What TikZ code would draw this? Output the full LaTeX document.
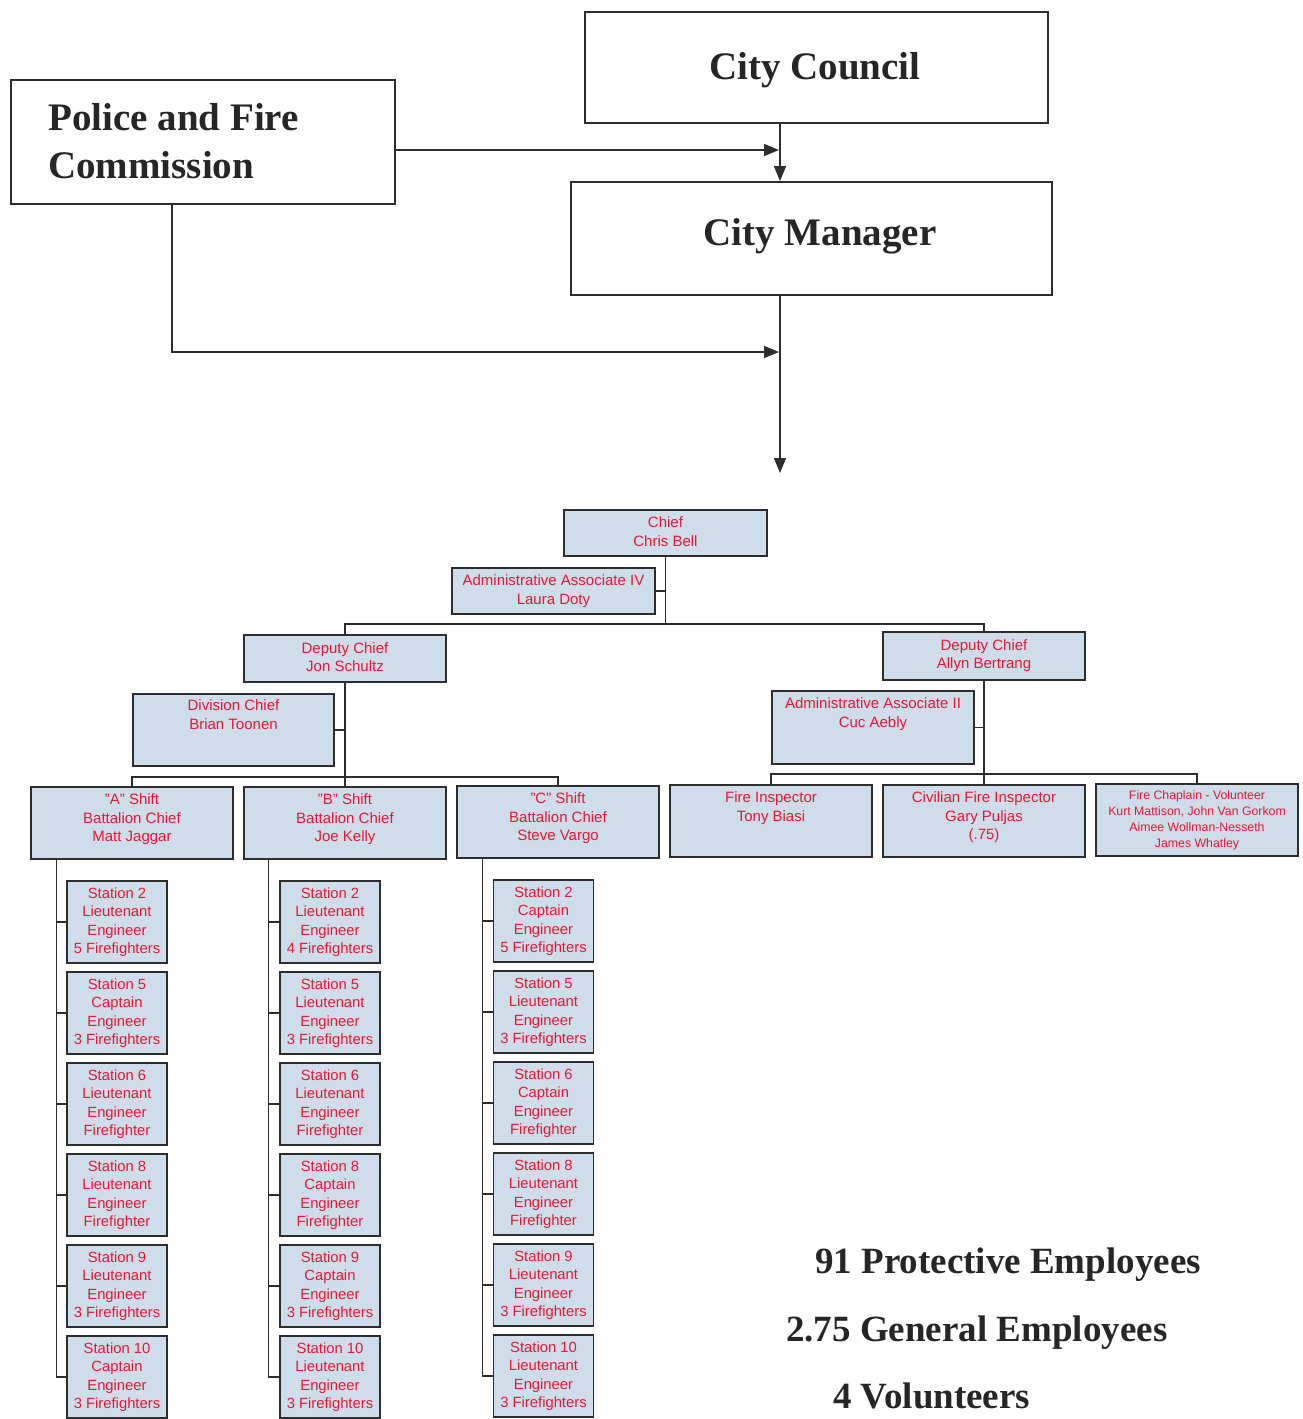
\documentclass[tikz,border=0pt]{standalone}
\usepackage{fontspec}
\setmainfont{Liberation Serif}
\setsansfont{Liberation Sans}
\usetikzlibrary{arrows.meta,calc}
\definecolor{boxfill}{RGB}{207,221,234}
\definecolor{firered}{RGB}{232,22,52}
\definecolor{edge}{RGB}{45,45,45}
\begin{document}
\begin{tikzpicture}[x=1pt,y=-1pt,
  bigbox/.style={draw=edge, line width=1.8pt, fill=white, inner sep=0pt},
  bigtxt/.style={font=\rmfamily\bfseries\fontsize{39}{48}\selectfont, text=black!85, inner sep=0pt},
  sumtxt/.style={font=\rmfamily\bfseries\fontsize{37}{44}\selectfont, text=black!85, inner sep=0pt, anchor=base west},
  arrowline/.style={draw=edge, line width=1.5pt, -{Triangle[length=15pt,width=12pt]}},
  box/.style={draw=edge, line width=1.5pt, fill=boxfill, inner sep=0pt},
  txt/.style={font=\sffamily\fontsize{15}{18.5}\selectfont, text=firered, align=center, inner sep=0pt, anchor=north},
  smalltxt/.style={font=\sffamily\fontsize{12.3}{16}\selectfont, text=firered, align=center, inner sep=0pt, anchor=north},
  stbox/.style={box, minimum width=100pt, minimum height=82pt, font=\sffamily\fontsize{14.8}{18.5}\selectfont, text=firered, align=center},
  conn/.style={draw=edge, line width=1.2pt}
]
\useasboundingbox[fill=white] (0,0) rectangle (1302,1419);

% ---------- top part ----------
\node[bigbox, minimum width=463pt, minimum height=111pt] (cc) at (816.5,67.5) {};
\node[bigtxt, anchor=base] (cct) at (815,79) {City Council};
\node[bigbox, minimum width=384pt, minimum height=124pt] (pfc) at (203,142) {};
\node[bigtxt, anchor=west, align=left] (pfct) at (48,141) {Police and Fire\\Commission};
\node[bigbox, minimum width=481pt, minimum height=113pt] (cm) at (811.5,238.5) {};
\node[bigtxt, anchor=base] (cmt) at (820,245) {City Manager};

\coordinate (spine) at (780,0);
\coordinate (j1) at (779,150);
\coordinate (j2) at (779,352);
\coordinate (j3) at (780,473);
\draw[arrowline] (spine |- cc.south) -- (spine |- cm.north);
\draw[arrowline] (pfc.east |- j1) -- (j1);
\draw[arrowline] ([xshift=-31pt]pfc.south) -- ([xshift=-31pt]pfc.south |- j2) -- (j2);
\draw[arrowline] (spine |- cm.south) -- (j3);

% ---------- chart ----------
\coordinate (bus1) at (0,624);
\coordinate (bus2) at (0,777);
\coordinate (bus3) at (0,774);

\node[box, minimum width=203pt, minimum height=46pt] (chief) at (665.5,533) {};
\node[txt] (chieft) at ([yshift=-7.5pt]chief.north) {Chief\\Chris Bell};
\node[box, minimum width=203pt, minimum height=46pt] (aa4) at (553.5,591) {};
\node[txt] (aa4t) at ([yshift=-7.5pt]aa4.north) {Administrative Associate IV\\Laura Doty};

\node[box, minimum width=202pt, minimum height=47pt] (dc1) at (345,658.5) {};
\node[txt] (dc1t) at ([yshift=-8pt]dc1.north) {Deputy Chief\\Jon Schultz};
\node[box, minimum width=202pt, minimum height=48pt] (dc2) at (984,656) {};
\node[txt] (dc2t) at ([yshift=-8pt]dc2.north) {Deputy Chief\\Allyn Bertrang};

\node[box, minimum width=201pt, minimum height=72pt] (div) at (233.5,730) {};
\node[txt] (divt) at ([yshift=-6.5pt]div.north) {Division Chief\\Brian Toonen};
\node[box, minimum width=202pt, minimum height=73pt] (aa2) at (873,727.5) {};
\node[txt] (aa2t) at ([yshift=-7.5pt]aa2.north) {Administrative Associate II\\Cuc Aebly};

\node[box, minimum width=202pt, minimum height=72pt] (shA) at (132,823) {};
\node[txt] (shAt) at ([yshift=-7.5pt]shA.north) {"A" Shift\\Battalion Chief\\Matt Jaggar};
\node[box, minimum width=202pt, minimum height=72pt] (shB) at (345,823) {};
\node[txt] (shBt) at ([yshift=-7.5pt]shB.north) {"B" Shift\\Battalion Chief\\Joe Kelly};
\node[box, minimum width=202pt, minimum height=72pt] (shC) at (558,822) {};
\node[txt] (shCt) at ([yshift=-7.5pt]shC.north) {"C" Shift\\Battalion Chief\\Steve Vargo};

\node[box, minimum width=202pt, minimum height=72pt] (fi) at (771,821) {};
\node[txt] (fit) at ([yshift=-7.5pt]fi.north) {Fire Inspector\\Tony Biasi};
\node[box, minimum width=202pt, minimum height=72pt] (cfi) at (984,821) {};
\node[txt] (cfit) at ([yshift=-7.5pt]cfi.north) {Civilian Fire Inspector\\Gary Puljas\\(.75)};
\node[box, minimum width=202pt, minimum height=72pt] (chap) at (1197,820) {};
\node[smalltxt] (chapt) at ([yshift=-7pt]chap.north) {Fire Chaplain - Volunteer\\Kurt Mattison, John Van Gorkom\\Aimee Wollman-Nesseth\\James Whatley};

% stations column A
\node[stbox] (a1) at (117,922) {Station 2\\Lieutenant\\Engineer\\5 Firefighters};
\node[stbox] (a2) at (117,1013) {Station 5\\Captain\\Engineer\\3 Firefighters};
\node[stbox] (a3) at (117,1104) {Station 6\\Lieutenant\\Engineer\\Firefighter};
\node[stbox] (a4) at (117,1195) {Station 8\\Lieutenant\\Engineer\\Firefighter};
\node[stbox] (a5) at (117,1286) {Station 9\\Lieutenant\\Engineer\\3 Firefighters};
\node[stbox] (a6) at (117,1377) {Station 10\\Captain\\Engineer\\3 Firefighters};
% column B
\node[stbox] (b1) at (330,922) {Station 2\\Lieutenant\\Engineer\\4 Firefighters};
\node[stbox] (b2) at (330,1013) {Station 5\\Lieutenant\\Engineer\\3 Firefighters};
\node[stbox] (b3) at (330,1104) {Station 6\\Lieutenant\\Engineer\\Firefighter};
\node[stbox] (b4) at (330,1195) {Station 8\\Captain\\Engineer\\Firefighter};
\node[stbox] (b5) at (330,1286) {Station 9\\Captain\\Engineer\\3 Firefighters};
\node[stbox] (b6) at (330,1377) {Station 10\\Lieutenant\\Engineer\\3 Firefighters};
% column C
\node[stbox] (c1) at (543.5,921) {Station 2\\Captain\\Engineer\\5 Firefighters};
\node[stbox] (c2) at (543.5,1012) {Station 5\\Lieutenant\\Engineer\\3 Firefighters};
\node[stbox] (c3) at (543.5,1103) {Station 6\\Captain\\Engineer\\Firefighter};
\node[stbox] (c4) at (543.5,1194) {Station 8\\Lieutenant\\Engineer\\Firefighter};
\node[stbox] (c5) at (543.5,1285) {Station 9\\Lieutenant\\Engineer\\3 Firefighters};
\node[stbox] (c6) at (543.5,1376) {Station 10\\Lieutenant\\Engineer\\3 Firefighters};

% connectors
\draw[conn] (chief.south) -- (chief.south |- bus1);
\draw[conn] (aa4.east) -- (chief.south |- aa4.east);
\draw[conn] (dc1.north) -- (dc1.north |- bus1) -- (dc2.north |- bus1) -- (dc2.north);
\draw[conn] (dc1.south) -- (shB.north);
\draw[conn] (div.east) -- (dc1.south |- div.east);
\draw[conn] (shA.north) -- (shA.north |- bus2) -- (shC.north |- bus2) -- (shC.north);
\draw[conn] (dc2.south) -- (cfi.north);
\draw[conn] (aa2.east) -- (dc2.south |- aa2.east);
\draw[conn] (fi.north) -- (fi.north |- bus3) -- (chap.north |- bus3) -- (chap.north);

\path ([xshift=-10pt]a1.west) coordinate (ra);
\path ([xshift=-11pt]b1.west) coordinate (rb);
\path ([xshift=-10.5pt]c1.west) coordinate (rc);
\draw[conn] (ra |- shA.south) -- (ra |- a6.west) -- (a6.west);
\draw[conn] (rb |- shB.south) -- (rb |- b6.west) -- (b6.west);
\draw[conn] (rc |- shC.south) -- (rc |- c6.west) -- (c6.west);
\foreach \n in {a1,a2,a3,a4,a5} \draw[conn] (\n.west) -- (ra |- \n.west);
\foreach \n in {b1,b2,b3,b4,b5} \draw[conn] (\n.west) -- (rb |- \n.west);
\foreach \n in {c1,c2,c3,c4,c5} \draw[conn] (\n.west) -- (rc |- \n.west);

% summary
\node[sumtxt] (s1) at (815,1273) {91 Protective Employees};
\node[sumtxt] (s2) at (786,1341) {2.75 General Employees};
\node[sumtxt] (s3) at (833,1408) {4 Volunteers};
\end{tikzpicture}
\end{document}
